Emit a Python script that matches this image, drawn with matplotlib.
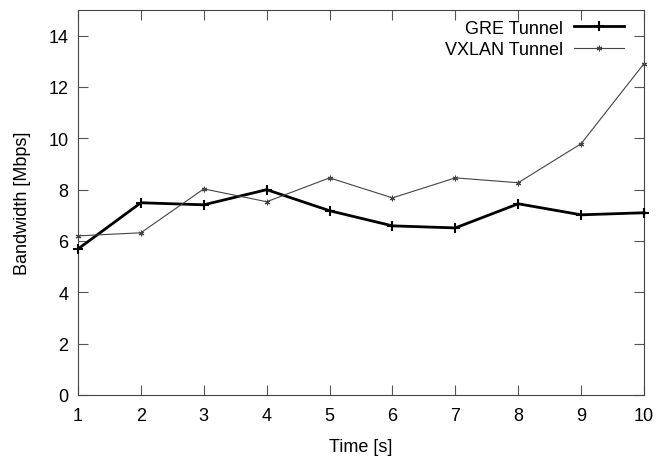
import matplotlib
matplotlib.use("Agg")
import matplotlib.pyplot as plt

plt.rcParams['font.family'] = ['Liberation Sans', 'DejaVu Sans']

time_s = [1, 2, 3, 4, 5, 6, 7, 8, 9, 10]
gre = [5.69, 7.49, 7.41, 8.00, 7.18, 6.59, 6.51, 7.45, 7.02, 7.10]
vxlan = [6.20, 6.32, 8.03, 7.53, 8.46, 7.68, 8.46, 8.27, 9.79, 12.91]
yticks = [0, 2, 4, 6, 8, 10, 12, 14]

fs = 13
fig = plt.figure(figsize=(6.56, 4.6), dpi=100)
ax = fig.add_axes([78/656, 1 - 396/460, (644-78)/656, (396-11)/460])

ax.plot(time_s, gre, color='black', lw=2.0, marker='+', ms=7, mew=1.5,
        label='GRE Tunnel', clip_on=False, zorder=3)
ax.plot(time_s, vxlan, color='#444444', lw=0.8, marker=(6, 2, 0), ms=4, mew=0.8,
        label='VXLAN Tunnel', clip_on=False, zorder=3)

ax.set_xlim(1, 10)
ax.set_ylim(0, 15)
ax.set_xticks(time_s)
ax.set_yticks(yticks)
ax.tick_params(direction='in', length=7, width=0.8, color='#555555',
               top=True, right=True, labelsize=fs)
ax.tick_params(axis='x', pad=9)
ax.tick_params(axis='y', pad=7)
for s in ax.spines.values():
    s.set_color('#444444')
    s.set_linewidth(0.8)

ax.set_xlabel('Time [s]', fontsize=fs, labelpad=10)
ax.set_ylabel('Bandwidth [Mbps]', fontsize=fs, labelpad=12)

ax.legend(loc='upper right', bbox_to_anchor=(0.965, 0.975), frameon=False,
          markerfirst=False, fontsize=fs, handlelength=2.8, borderaxespad=0,
          borderpad=0, labelspacing=0.25, handletextpad=0.6)

fig.savefig('out.png', dpi=100)
